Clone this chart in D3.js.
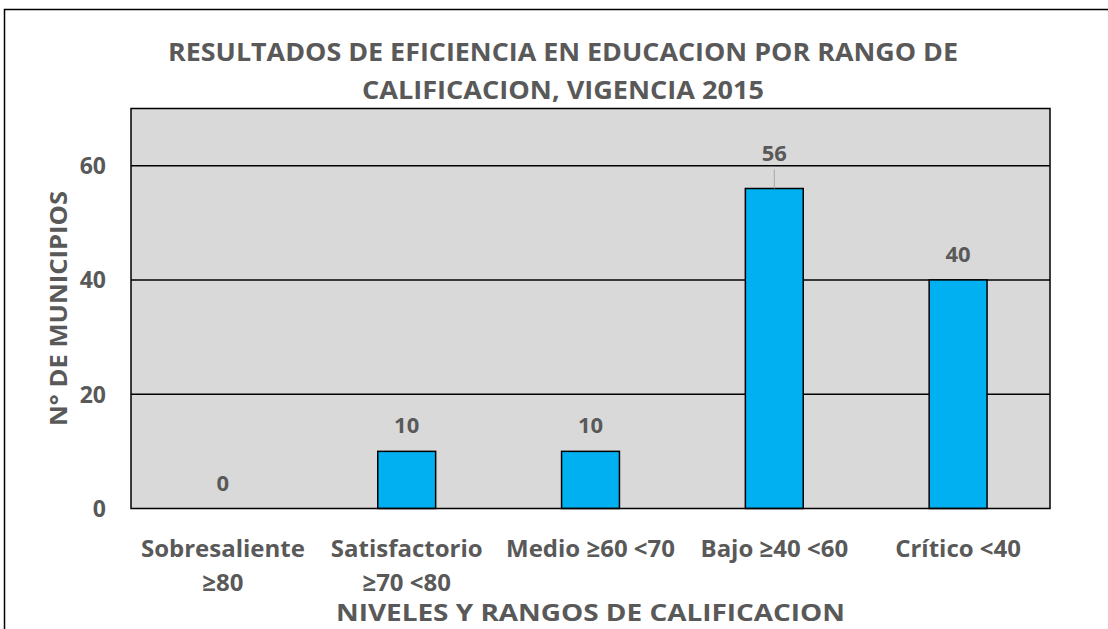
<!DOCTYPE html>
<html><head><meta charset="utf-8">
<script src="https://cdn.jsdelivr.net/npm/d3@7"></script>
<style>body{margin:0;background:#fff}svg{display:block}text{font-family:"Open Sans",sans-serif;font-weight:bold;fill:#595959}</style>
</head><body>
<svg id="c" width="1108" height="629"></svg>
<script>
const categories = [["Sobresaliente","≥80"],["Satisfactorio","≥70 <80"],["Medio ≥60 <70"],["Bajo ≥40 <60"],["Crítico <40"]];
const values = [0,10,10,56,40];
const yTicks = [0,20,40,60];
const titleLines = ["RESULTADOS DE EFICIENCIA EN EDUCACION POR RANGO DE","CALIFICACION, VIGENCIA 2015"];
const yTitle = "N° DE MUNICIPIOS";
const xTitle = "NIVELES Y RANGOS DE CALIFICACION";

const svg = d3.select("#c");
svg.append("rect").attr("x",4.5).attr("y",9.5).attr("width",1110).attr("height",640)
  .attr("fill","#fff").attr("stroke","#000").attr("stroke-width",1.5);

const m = {l:131,r:1050,t:108.5,b:508.5};
const x = d3.scaleBand().domain(d3.range(categories.length)).range([m.l,m.r]).paddingInner(0.685).paddingOuter(0.3425);
const y = d3.scaleLinear().domain([0,70]).range([m.b,m.t]);

svg.append("rect").attr("x",m.l).attr("y",m.t).attr("width",m.r-m.l).attr("height",m.b-m.t).attr("fill","#d9d9d9");
svg.append("g").selectAll("line").data(yTicks.filter(d=>d>0)).join("line")
  .attr("x1",m.l).attr("x2",m.r).attr("y1",d=>y(d)).attr("y2",d=>y(d)).attr("stroke","#000").attr("stroke-width",1.5);

svg.append("g").selectAll("rect").data(values).join("rect")
  .attr("x",(d,i)=>x(i)).attr("width",x.bandwidth()).attr("y",d=>y(d)).attr("height",d=>y(0)-y(d))
  .attr("fill","#00b0f0").attr("stroke","#000").attr("stroke-width",1.5)
  .style("display",d=>d>0?null:"none");

svg.append("rect").attr("x",m.l).attr("y",m.t).attr("width",m.r-m.l).attr("height",m.b-m.t)
  .attr("fill","none").attr("stroke","#000").attr("stroke-width",1.5);

// data labels
values.forEach((v,i)=>{
  const cx = x(i)+x.bandwidth()/2;
  const lift = v===56 ? 28 : 18;
  svg.append("text").attr("x",cx).attr("y",y(v)-lift).attr("text-anchor","middle").attr("font-size",22).text(v);
  if (v===56) svg.append("line").attr("x1",cx).attr("x2",cx).attr("y1",y(v)-19).attr("y2",y(v)).attr("stroke","#a6a6a6").attr("stroke-width",1);
});

// y axis ticks
const ya = svg.append("g").attr("transform",`translate(${m.l},0)`)
  .call(d3.axisLeft(y).tickValues(yTicks).tickSize(0).tickPadding(25));
ya.select(".domain").remove();
ya.selectAll("text").attr("font-size",23).attr("dy","0.35em").style("font-family","'Open Sans',sans-serif").style("font-weight","bold").attr("fill","#595959");

// x axis labels
const xa = svg.append("g").attr("transform",`translate(0,${m.b})`)
  .call(d3.axisBottom(x).tickSize(0).tickFormat(""));
xa.select(".domain").remove();
xa.selectAll(".tick").each(function(i){
  const t = d3.select(this).append("text").attr("text-anchor","middle").attr("font-size",24)
    .style("font-family","'Open Sans',sans-serif").style("font-weight","bold").attr("fill","#595959");
  categories[i].forEach((s,k)=>t.append("tspan").attr("x",0).attr("y",48.5+k*34).text(s));
});

// titles
const tw = [790,402];
titleLines.forEach((s,k)=>svg.append("text").attr("x",563).attr("y",61+k*38).attr("text-anchor","middle")
  .attr("font-size",25).attr("textLength",tw[k]).attr("lengthAdjust","spacingAndGlyphs").text(s));
svg.append("text").attr("transform",`translate(67,${(m.t+m.b)/2}) rotate(-90)`).attr("text-anchor","middle")
  .attr("font-size",24).attr("textLength",235).attr("lengthAdjust","spacingAndGlyphs").text(yTitle);
svg.append("text").attr("x",(m.l+m.r)/2).attr("y",621).attr("text-anchor","middle")
  .attr("font-size",23).attr("textLength",509).attr("lengthAdjust","spacingAndGlyphs").text(xTitle);
</script>
</body></html>
